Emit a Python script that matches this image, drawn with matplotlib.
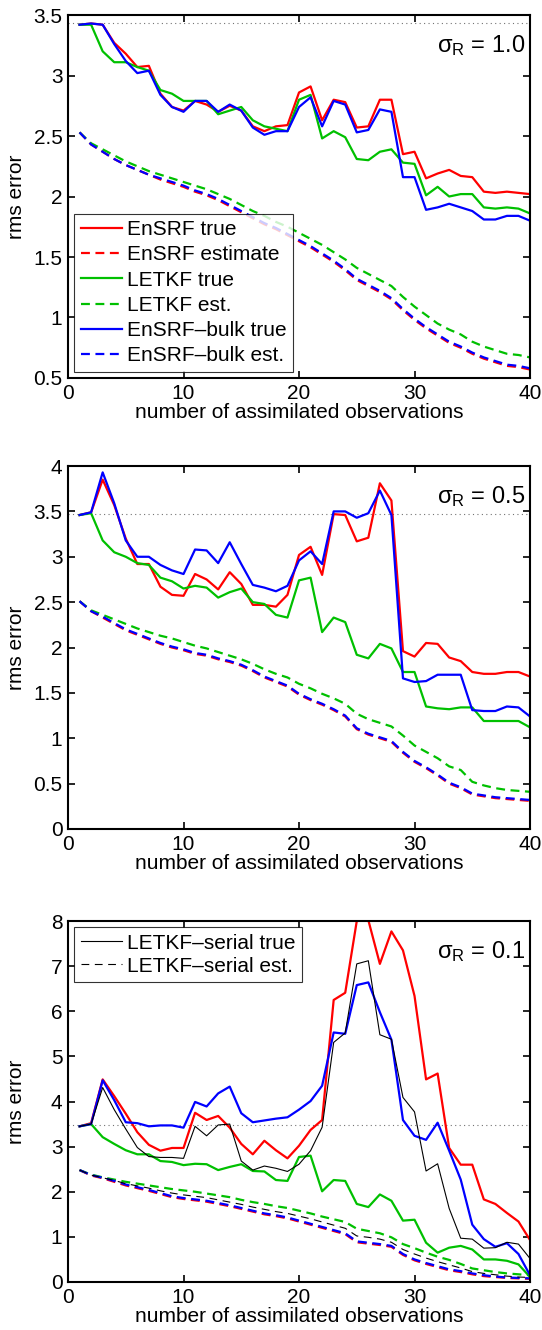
import numpy as np
import matplotlib
matplotlib.use("Agg")
from matplotlib import pyplot as plt
from matplotlib.ticker import FormatStrFormatter, MultipleLocator

plt.rcParams['font.family'] = ['Liberation Sans', 'DejaVu Sans']
plt.rcParams['mathtext.fontset'] = 'custom'
plt.rcParams['mathtext.rm'] = 'Liberation Sans'
plt.rcParams['mathtext.it'] = 'Liberation Sans:italic'
plt.rcParams['mathtext.sf'] = 'Liberation Sans'

nobs = np.arange(1, 41)

# ---- sigma_R = 1.0 ----
p1_ensrf_true = [3.42, 3.43, 3.42, 3.27, 3.18, 3.07, 3.08, 2.85, 2.74, 2.71,
                 2.79, 2.76, 2.70, 2.75, 2.71, 2.58, 2.54, 2.58, 2.59, 2.86,
                 2.91, 2.63, 2.80, 2.78, 2.57, 2.58, 2.80, 2.80, 2.35, 2.37,
                 2.15, 2.19, 2.22, 2.17, 2.16, 2.04, 2.03, 2.04, 2.03, 2.02]
p1_ensrf_est = [2.53, 2.43, 2.37, 2.31, 2.26, 2.22, 2.18, 2.14, 2.11, 2.08,
                2.04, 2.01, 1.97, 1.92, 1.87, 1.82, 1.77, 1.73, 1.68, 1.63,
                1.58, 1.52, 1.46, 1.39, 1.31, 1.26, 1.21, 1.15, 1.06, 0.98,
                0.91, 0.85, 0.79, 0.75, 0.70, 0.66, 0.63, 0.60, 0.59, 0.57]
p1_letkf_true = [3.42, 3.42, 3.20, 3.11, 3.11, 3.07, 3.04, 2.88, 2.85, 2.79,
                 2.79, 2.79, 2.68, 2.71, 2.74, 2.63, 2.58, 2.56, 2.54, 2.80,
                 2.84, 2.48, 2.54, 2.49, 2.31, 2.30, 2.37, 2.39, 2.28, 2.27,
                 2.01, 2.08, 2.00, 2.02, 2.02, 1.91, 1.90, 1.91, 1.90, 1.86]
p1_letkf_est = [2.53, 2.44, 2.39, 2.34, 2.29, 2.25, 2.21, 2.18, 2.15, 2.12,
                2.09, 2.06, 2.02, 1.98, 1.93, 1.88, 1.84, 1.79, 1.75, 1.70,
                1.65, 1.60, 1.54, 1.48, 1.41, 1.36, 1.31, 1.26, 1.17, 1.09,
                1.02, 0.95, 0.90, 0.86, 0.80, 0.76, 0.73, 0.70, 0.69, 0.67]
p1_bulk_true = [3.42, 3.43, 3.42, 3.26, 3.12, 3.02, 3.04, 2.84, 2.74, 2.70,
                2.79, 2.79, 2.70, 2.76, 2.71, 2.57, 2.51, 2.54, 2.54, 2.74,
                2.82, 2.58, 2.79, 2.76, 2.53, 2.55, 2.72, 2.70, 2.16, 2.16,
                1.89, 1.91, 1.94, 1.91, 1.88, 1.81, 1.81, 1.84, 1.84, 1.80]
p1_bulk_est = [2.53, 2.43, 2.37, 2.31, 2.26, 2.22, 2.18, 2.15, 2.12, 2.09,
               2.05, 2.02, 1.98, 1.93, 1.88, 1.83, 1.78, 1.74, 1.69, 1.64,
               1.59, 1.53, 1.47, 1.40, 1.32, 1.27, 1.22, 1.16, 1.07, 0.99,
               0.92, 0.86, 0.80, 0.76, 0.71, 0.67, 0.64, 0.61, 0.60, 0.58]

# ---- sigma_R = 0.5 ----
p2_ensrf_true = [3.46, 3.49, 3.85, 3.57, 3.20, 2.92, 2.92, 2.67, 2.58, 2.57,
                 2.81, 2.75, 2.64, 2.83, 2.70, 2.47, 2.47, 2.45, 2.58, 3.02,
                 3.11, 2.80, 3.47, 3.46, 3.17, 3.21, 3.81, 3.62, 1.96, 1.90,
                 2.05, 2.04, 1.89, 1.85, 1.73, 1.71, 1.71, 1.73, 1.73, 1.68]
p2_ensrf_est = [2.51, 2.40, 2.33, 2.26, 2.19, 2.14, 2.09, 2.04, 2.00, 1.97,
                1.93, 1.91, 1.87, 1.84, 1.80, 1.74, 1.67, 1.62, 1.57, 1.48,
                1.42, 1.37, 1.31, 1.24, 1.10, 1.04, 1.00, 0.96, 0.84, 0.74,
                0.67, 0.59, 0.50, 0.45, 0.38, 0.36, 0.34, 0.33, 0.32, 0.31]
p2_letkf_true = [3.46, 3.48, 3.18, 3.05, 3.00, 2.93, 2.91, 2.77, 2.73, 2.65,
                 2.68, 2.66, 2.55, 2.61, 2.65, 2.50, 2.48, 2.36, 2.33, 2.74,
                 2.77, 2.17, 2.33, 2.28, 1.92, 1.88, 2.04, 1.99, 1.73, 1.73,
                 1.35, 1.33, 1.32, 1.34, 1.34, 1.19, 1.19, 1.19, 1.19, 1.12]
p2_letkf_est = [2.51, 2.41, 2.36, 2.31, 2.26, 2.21, 2.17, 2.13, 2.10, 2.06,
                2.02, 1.99, 1.95, 1.91, 1.87, 1.82, 1.76, 1.71, 1.67, 1.60,
                1.55, 1.49, 1.44, 1.38, 1.27, 1.21, 1.17, 1.13, 1.03, 0.92,
                0.85, 0.78, 0.69, 0.65, 0.52, 0.48, 0.45, 0.43, 0.42, 0.41]
p2_bulk_true = [3.46, 3.49, 3.93, 3.59, 3.18, 3.00, 3.00, 2.91, 2.85, 2.81,
                3.08, 3.07, 2.93, 3.16, 2.92, 2.69, 2.66, 2.62, 2.68, 2.96,
                3.06, 2.92, 3.50, 3.50, 3.43, 3.48, 3.73, 3.46, 1.66, 1.62,
                1.63, 1.70, 1.70, 1.70, 1.31, 1.30, 1.30, 1.35, 1.34, 1.24]
p2_bulk_est = [2.51, 2.40, 2.34, 2.27, 2.20, 2.15, 2.10, 2.05, 2.01, 1.98,
               1.94, 1.92, 1.88, 1.85, 1.81, 1.75, 1.68, 1.63, 1.58, 1.49,
               1.43, 1.38, 1.32, 1.25, 1.11, 1.05, 1.01, 0.97, 0.85, 0.75,
               0.68, 0.60, 0.51, 0.46, 0.39, 0.37, 0.35, 0.34, 0.33, 0.32]

# ---- sigma_R = 0.1 ----
p3_ensrf_true = [3.45, 3.52, 4.49, 4.12, 3.73, 3.32, 3.04, 2.91, 2.97, 2.97,
                 3.75, 3.59, 3.68, 3.42, 3.06, 2.83, 3.13, 2.92, 2.74, 3.02,
                 3.37, 3.59, 6.25, 6.41, 8.00, 8.02, 7.05, 7.77, 7.35, 6.34,
                 4.49, 4.62, 2.97, 2.60, 2.60, 1.83, 1.73, 1.53, 1.34, 0.93]
p3_ensrf_est = [2.48, 2.36, 2.30, 2.22, 2.14, 2.08, 2.02, 1.95, 1.88, 1.84,
                1.81, 1.78, 1.73, 1.68, 1.62, 1.56, 1.50, 1.46, 1.41, 1.34,
                1.27, 1.20, 1.13, 1.06, 0.88, 0.85, 0.82, 0.78, 0.60, 0.48,
                0.40, 0.33, 0.26, 0.22, 0.17, 0.13, 0.11, 0.09, 0.08, 0.07]
p3_letkf_true = [3.45, 3.50, 3.21, 3.06, 2.92, 2.83, 2.83, 2.68, 2.66, 2.59,
                 2.62, 2.61, 2.48, 2.55, 2.61, 2.46, 2.45, 2.26, 2.24, 2.77,
                 2.80, 2.01, 2.26, 2.24, 1.73, 1.66, 1.94, 1.80, 1.36, 1.38,
                 0.87, 0.65, 0.76, 0.80, 0.72, 0.50, 0.50, 0.47, 0.39, 0.11]
p3_letkf_est = [2.48, 2.38, 2.32, 2.27, 2.22, 2.18, 2.14, 2.10, 2.06, 2.03,
                2.00, 1.96, 1.92, 1.88, 1.82, 1.77, 1.73, 1.68, 1.64, 1.58,
                1.52, 1.45, 1.39, 1.33, 1.18, 1.13, 1.08, 0.99, 0.84, 0.75,
                0.65, 0.56, 0.49, 0.40, 0.30, 0.26, 0.22, 0.19, 0.17, 0.15]
p3_bulk_true = [3.45, 3.50, 4.47, 4.03, 3.54, 3.52, 3.45, 3.47, 3.47, 3.42,
                3.99, 3.89, 4.18, 4.33, 3.74, 3.54, 3.58, 3.62, 3.65, 3.82,
                4.01, 4.35, 5.53, 5.50, 6.58, 6.64, 5.98, 5.37, 3.59, 3.24,
                3.15, 3.53, 2.91, 2.27, 1.27, 0.95, 0.78, 0.86, 0.62, 0.15]
p3_bulk_est = [2.48, 2.37, 2.31, 2.24, 2.16, 2.10, 2.04, 1.97, 1.90, 1.86,
               1.83, 1.80, 1.75, 1.70, 1.64, 1.58, 1.52, 1.48, 1.43, 1.36,
               1.29, 1.22, 1.15, 1.08, 0.90, 0.87, 0.84, 0.80, 0.62, 0.50,
               0.42, 0.35, 0.28, 0.24, 0.19, 0.15, 0.12, 0.10, 0.09, 0.08]
p3_serial_true = [3.45, 3.50, 4.31, 3.82, 3.39, 2.98, 2.78, 2.76, 2.76, 2.74,
                  3.45, 3.24, 3.48, 3.50, 2.68, 2.48, 2.57, 2.52, 2.45, 2.61,
                  2.91, 3.43, 5.31, 5.52, 7.05, 7.12, 5.48, 5.38, 4.09, 3.77,
                  2.46, 2.62, 1.63, 0.97, 0.95, 0.75, 0.76, 0.88, 0.84, 0.52]
p3_serial_est = [2.48, 2.37, 2.31, 2.25, 2.18, 2.13, 2.08, 2.02, 1.97, 1.93,
                 1.90, 1.87, 1.82, 1.77, 1.72, 1.66, 1.61, 1.56, 1.52, 1.46,
                 1.40, 1.33, 1.26, 1.19, 1.02, 0.99, 0.95, 0.88, 0.72, 0.62,
                 0.53, 0.45, 0.38, 0.31, 0.23, 0.19, 0.16, 0.13, 0.11, 0.10]

sigma_labels = ["1.0", "0.5", "0.1"]
clim_rms = [3.43, 3.47, 3.47]
ylims = [(0.5, 3.5), (0, 4), (0, 8)]
ysteps = [0.5, 0.5, 1]

red, green, blue = "#ff0000", "#00c000", "#0000ff"
dash = (4, 2.5)
lw = 1.6

fig = plt.figure(figsize=(5.42, 13.3), dpi=100)
boxes = [[0.1255, 0.7158, 0.8524, 0.2729],
         [0.1255, 0.3767, 0.8524, 0.2729],
         [0.1255, 0.0361, 0.8524, 0.2714]]

panels = [
    (p1_ensrf_true, p1_ensrf_est, p1_letkf_true, p1_letkf_est, p1_bulk_true, p1_bulk_est),
    (p2_ensrf_true, p2_ensrf_est, p2_letkf_true, p2_letkf_est, p2_bulk_true, p2_bulk_est),
    (p3_ensrf_true, p3_ensrf_est, p3_letkf_true, p3_letkf_est, p3_bulk_true, p3_bulk_est),
]

leg_kw = dict(fontsize=15, frameon=True, fancybox=False, borderaxespad=0.3,
              handlelength=2.0, handletextpad=0.25, borderpad=0.3)

for i, (et, ee, lt, le, bt, be) in enumerate(panels):
    ax = fig.add_axes(boxes[i])
    ax.axhline(clim_rms[i], color="0.45", ls=(0, (1, 3)), lw=0.8)
    ax.plot(nobs, et, color=red, lw=lw, label="EnSRF true")
    ax.plot(nobs, ee, color=red, lw=lw, ls="--", dashes=dash, label="EnSRF estimate")
    ax.plot(nobs, lt, color=green, lw=lw, label="LETKF true")
    ax.plot(nobs, le, color=green, lw=lw, ls="--", dashes=dash, label="LETKF est.")
    ax.plot(nobs, bt, color=blue, lw=lw, label="EnSRF\u2013bulk true")
    ax.plot(nobs, be, color=blue, lw=lw, ls="--", dashes=dash, label="EnSRF\u2013bulk est.")
    if i == 0:
        leg = ax.legend(loc="lower left", labelspacing=0.3, **leg_kw)
        leg.get_frame().set_edgecolor("black")
        leg.get_frame().set_linewidth(0.8)
    if i == 2:
        h1, = ax.plot(nobs, p3_serial_true, color="black", lw=0.8)
        h2, = ax.plot(nobs, p3_serial_est, color="black", lw=0.8, ls="--", dashes=(7, 5))
        leg = ax.legend([h1, h2], ["LETKF\u2013serial true", "LETKF\u2013serial est."],
                        loc="upper left", labelspacing=0.2, **leg_kw)
        leg.get_frame().set_edgecolor("black")
        leg.get_frame().set_linewidth(0.8)

    ax.text(0.99, 0.95, "\u03c3$_\\mathrm{R}$ = " + sigma_labels[i], transform=ax.transAxes,
            ha="right", va="top", fontsize=17)
    ax.set_xlim(0, 40)
    ax.set_ylim(*ylims[i])
    ax.xaxis.set_major_locator(MultipleLocator(10))
    ax.yaxis.set_major_locator(MultipleLocator(ysteps[i]))
    ax.yaxis.set_major_formatter(FormatStrFormatter("%g"))
    ax.tick_params(direction="in", length=5, width=1.2, labelsize=15,
                   top=True, right=True)
    ax.tick_params(axis="x", pad=4)
    ax.tick_params(axis="y", pad=4)
    for s in ax.spines.values():
        s.set_linewidth(1.5)
    ax.set_xlabel("number of assimilated observations", fontsize=15, labelpad=0)
    ax.set_ylabel("rms error", fontsize=15)
    ax.yaxis.set_label_coords(-0.09, 0.5)

fig.savefig("out.png", dpi=100)
